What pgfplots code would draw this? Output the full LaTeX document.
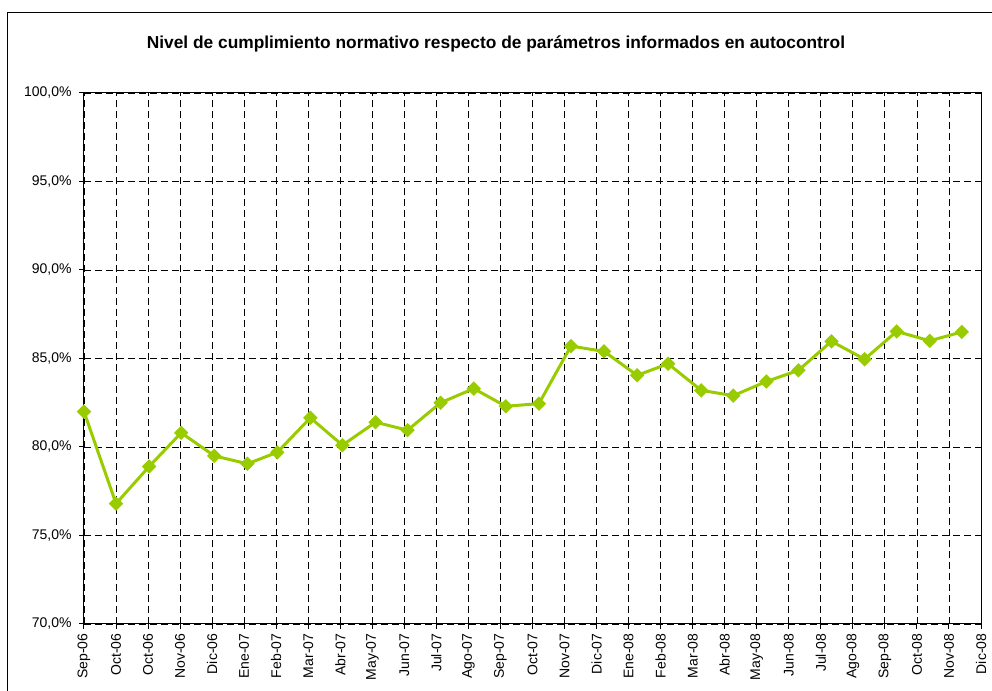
\documentclass[border=0pt]{standalone}
\usepackage{pgfplots}
\pgfplotsset{compat=1.18}
\usepackage{fontspec}
\setmainfont{Liberation Sans}
\definecolor{lime}{HTML}{99CC00}
\pgfplotstableread{
day val
0 82.0
30 76.8
61 78.9
91 80.8
122 79.5
153 79.05
181 79.7
212 81.65
242 80.1
273 81.4
303 80.95
334 82.5
365 83.3
395 82.3
426 82.45
456 85.7
487 85.4
518 84.05
547 84.7
578 83.2
608 82.9
639 83.7
669 84.33
700 85.97
731 84.96
761 86.53
792 86.0
822 86.5
}\datatable
\begin{document}
\begin{tikzpicture}
\useasboundingbox (-63pt,-50.25pt) rectangle (681pt,468pt);
\draw[line width=0.75pt] (-57pt,-60pt) rectangle (690pt,458.6pt);
\node[font=\bfseries\fontsize{13}{15}\selectfont] at (309pt,435pt) {Nivel de cumplimiento normativo respecto de parámetros informados en autocontrol};
\begin{axis}[at={(0,0)}, anchor=south west, scale only axis,
  width=672.75pt, height=398.25pt,
  xmin=0, xmax=840, ymin=70, ymax=100,
  xtick={0,30,...,840},
  xticklabels={Sep-06,Oct-06,Oct-06,Nov-06,Dic-06,Ene-07,Feb-07,Mar-07,Abr-07,May-07,Jun-07,Jul-07,Ago-07,Sep-07,Oct-07,Nov-07,Dic-07,Ene-08,Feb-08,Mar-08,Abr-08,May-08,Jun-08,Jul-08,Ago-08,Sep-08,Oct-08,Nov-08,Dic-08},
  x tick label style={rotate=90, anchor=east, font=\fontsize{10.5}{12}\selectfont},
  ytick={70,75,...,100},
  yticklabels={{70,0\%},{75,0\%},{80,0\%},{85,0\%},{90,0\%},{95,0\%},{100,0\%}},
  y tick label style={font=\fontsize{10.5}{12}\selectfont, xshift=-2pt},
  grid=major,
  major grid style={black, dash pattern=on 5.25pt off 3pt, line width=0.6pt},
  tick align=outside, tick pos=left, major tick length=3.75pt,
  tick style={black, line width=0.75pt},
  axis line style={line width=0.75pt},
  clip=false,
]
\addplot[color=lime, line width=2.25pt, mark=square*, mark size=2.7pt,
  mark options={rotate=45, solid, fill=lime}] table[x=day, y=val] {\datatable};
\end{axis}
\end{tikzpicture}
\end{document}
